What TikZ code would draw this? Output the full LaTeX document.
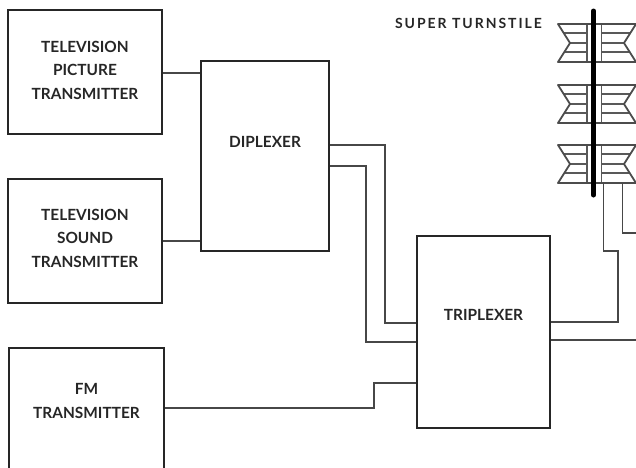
\documentclass[tikz,border=0pt]{standalone}
\usepackage{fontspec}
\setmainfont{Lato}
\usetikzlibrary{calc}
\tikzset{
  x=1pt,y=-1pt,
  box/.style={draw=black!85,line width=1.6pt,rectangle,minimum width=#1,inner sep=0pt},
  wire/.style={draw=black!72,line width=1.5pt,line join=miter},
  txt/.style={font=\fontsize{15.4}{23.5}\selectfont\bfseries,align=center,text=black!85},
  ant/.style={draw=black!65,line width=1.3pt},
  antb/.style={draw=black!70,line width=1.8pt,line join=round},
  mast/.style={draw=black,line width=5pt,line cap=round}
}
\newcommand{\turn}[1]{%
  \begin{scope}[shift={(0,#1)}]
    \draw[ant] (587,0)--(587,38) (601.5,0)--(601.5,38);
    \draw[ant] (564,9)--(587,9) (565,28)--(587,28) (570,19)--(587,19);
    \draw[ant] (601.5,9)--(630,9) (601.5,28)--(630,28) (601.5,19)--(624,19);
    \draw[antb] (636,0)--(558,0)--(570,19)--(558,38)--(636,38)--(624,19)--cycle;
  \end{scope}}
\begin{document}
\begin{tikzpicture}
\useasboundingbox (0,0) rectangle (636,467);
\node[box=154pt,minimum height=124pt,label={[txt,yshift=2pt]center:TELEVISION\\PICTURE\\TRANSMITTER}] (pic) at (85,72) {};
\node[box=154pt,minimum height=124pt,label={[txt,yshift=3pt]center:TELEVISION\\SOUND\\TRANSMITTER}] (snd) at (85,241) {};
\node[box=155pt,minimum height=140pt,label={[txt,yshift=17pt]center:FM\\TRANSMITTER}] (fm) at (86.5,418) {};
\node[box=128pt,minimum height=190pt,label={[txt,yshift=14pt]center:DIPLEXER}] (dip) at (265,156) {};
\node[box=133pt,minimum height=192pt,label={[txt,yshift=17pt]center:TRIPLEXER}] (tri) at (483.5,332) {};
\node[txt,inner sep=0pt,font=\fontsize{14}{16}\selectfont\bfseries\addfontfeatures{LetterSpace=14}] (st) at (468.5,23) {SUPER TURNSTILE};
\turn{24}\turn{85}\turn{145}
\coordinate (mt) at (593.5,11);
\coordinate (mb) at (593.5,195);
\draw[mast] (mt)--(mb);
\coordinate (f1) at (603.5,183);
\coordinate (f2) at (622.5,183);
\coordinate (e1) at (636,233);
\coordinate (e2) at (636,340);
\draw[wire] (pic.east|-0,73)--(dip.west|-0,73);
\draw[wire] (snd.east|-0,241)--(dip.west|-0,241);
\draw[wire] (dip.east|-0,145)--(385,145)--(385,323)--(tri.west|-0,323);
\draw[wire] (dip.east|-0,166)--(366,166)--(366,342)--(tri.west|-0,342);
\draw[wire] (fm.east|-0,408)--(374,408)--(374,383)--(tri.west|-0,383);
\draw[wire] (tri.east|-0,322)--(618,322)--(618,251)--(603.5,251)--(f1);
\draw[wire] (tri.east|-0,340)--(e2);
\draw[wire] (f2)--(622.5,233)--(e1);
\end{tikzpicture}
\end{document}
